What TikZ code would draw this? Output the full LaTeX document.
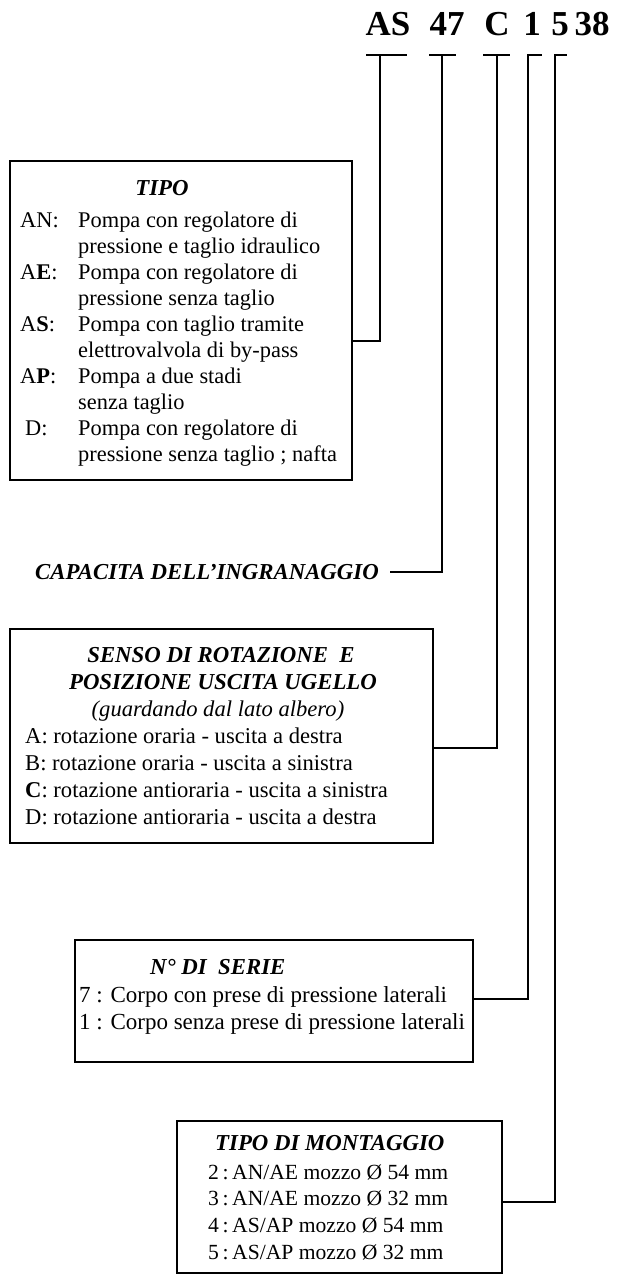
\documentclass[tikz,border=0pt]{standalone}
\usepackage{fontspec}
\setmainfont{Liberation Serif}
\begin{document}
\begin{tikzpicture}[x=1pt,y=-1pt,
  box/.style={draw, line width=2pt, inner sep=0pt, outer sep=0pt, anchor=north west},
  wire/.style={line width=1.8pt},
  bar/.style={line width=2.2pt},
  txt/.style={inner sep=0pt, anchor=base west, font=\fontsize{22.6}{27}\selectfont},
  txtT/.style={txt, font=\fontsize{22.4}{27}\selectfont},
  txtN/.style={txt, font=\fontsize{23}{27}\selectfont},
  txtM/.style={txt, font=\fontsize{21.6}{27}\selectfont},
  ttl/.style={inner sep=0pt, anchor=base, font=\fontsize{22.8}{27}\selectfont\bfseries\itshape},
  ttlw/.style={inner sep=0pt, anchor=base west, font=\fontsize{22.8}{27}\selectfont\bfseries\itshape},
  code/.style={inner sep=0pt, anchor=base, font=\fontsize{35}{40}\selectfont\bfseries}]
\useasboundingbox (0,0) rectangle (619,1275);

% ---- code at top
\node[code] (kAS) at (388,35) {AS};
\node[code] (k47) at (447,35) {47};
\node[code] (kC)  at (497,35) {C};
\node[code] (k1)  at (532,35) {1};
\node[code] (k5)  at (560,35) {5};
\node[code] (k38) at (592,35) {38};

% T bars
\coordinate (bAS1) at (366,55); \coordinate (bAS2) at (407,55); \coordinate (tAS) at (380,55);
\coordinate (b471) at (429,55); \coordinate (b472) at (456,55); \coordinate (t47) at (442,55);
\coordinate (bC1)  at (483,55); \coordinate (bC2)  at (510,55); \coordinate (tC)  at (497,55);
\coordinate (b11)  at (527,55); \coordinate (b12)  at (542,55); \coordinate (t1)  at (528,55);
\coordinate (b51)  at (554,55); \coordinate (b52)  at (567,55); \coordinate (t5)  at (555,55);
\draw[bar] (bAS1) -- (bAS2);
\draw[bar] (b471) -- (b472);
\draw[bar] (bC1) -- (bC2);
\draw[bar] (b11) -- (b12);
\draw[bar] (b51) -- (b52);

% ---- TIPO box
\node[box, minimum width=342pt, minimum height=319pt] (tipo) at (10,161) {};
\node[ttl] (tipoT) at (162,195) {TIPO};
\node[txtT] (lAN) at (20,227) {AN:};
\node[txtT] (tAN1) at (78,227) {Pompa con regolatore di};
\node[txtT] (tAN2) at (78,253) {pressione e taglio idraulico};
\node[txtT] (lAE) at (20,279) {A\textbf{E}:};
\node[txtT] (tAE1) at (78,279) {Pompa con regolatore di};
\node[txtT] (tAE2) at (78,305) {pressione senza taglio};
\node[txtT] (lAS) at (20,331) {A\textbf{S}:};
\node[txtT] (tAS1) at (78,331) {Pompa con taglio tramite};
\node[txtT] (tAS2) at (78,357) {elettrovalvola di by-pass};
\node[txtT] (lAP) at (20,383) {A\textbf{P}:};
\node[txtT] (tAP1) at (78,383) {Pompa a due stadi};
\node[txtT] (tAP2) at (78,409) {senza taglio};
\node[txtT] (lD) at (25,435) {D:};
\node[txtT] (tD1) at (78,435) {Pompa con regolatore di};
\node[txtT] (tD2) at (78,461) {pressione senza taglio ; nafta};

% ---- CAPACITA
\node[ttlw] (cap) at (35,579) {CAPACITA DELL'INGRANAGGIO};
\coordinate (capLine) at (390,572);

% ---- SENSO box
\node[box, minimum width=423pt, minimum height=214pt] (senso) at (10,629) {};
\node[ttl] (sT1) at (221,662) {SENSO DI ROTAZIONE\ \ E};
\node[ttl] (sT2) at (223,689) {POSIZIONE USCITA UGELLO};
\node[txt, anchor=base, font=\fontsize{22.6}{27}\selectfont\itshape] (sT3) at (218,716) {(guardando dal lato albero)};
\node[txt] (sA) at (25,743) {A: rotazione oraria - uscita a destra};
\node[txt] (sB) at (25,770) {B: rotazione oraria - uscita a sinistra};
\node[txt] (sC) at (25,797) {\textbf{C}: rotazione antioraria - uscita a sinistra};
\node[txt] (sD) at (25,824) {D: rotazione antioraria - uscita a destra};

% ---- SERIE box
\node[box, minimum width=398pt, minimum height=122pt] (serie) at (75,940) {};
\node[ttlw] (nT) at (150,974) {N° DI\ \ SERIE};
\node[txtN] (n7) at (79,1002) {7 : Corpo con prese di pressione laterali};
\node[txtN] (n1) at (79,1029) {1 : Corpo senza prese di pressione laterali};

% ---- MONTAGGIO box
\node[box, minimum width=325pt, minimum height=152pt] (mont) at (177,1121) {};
\node[ttlw] (mT) at (215,1150) {TIPO DI MONTAGGIO};
\node[txtM] (m2) at (208,1179) {2\thinspace:\thinspace AN/AE mozzo Ø 54 mm};
\node[txtM] (m3) at (208,1205) {3\thinspace:\thinspace AN/AE mozzo Ø 32 mm};
\node[txtM] (m4) at (208,1232) {4\thinspace:\thinspace AS/AP mozzo Ø 54 mm};
\node[txtM] (m5) at (208,1259) {5\thinspace:\thinspace AS/AP mozzo Ø 32 mm};

% ---- connectors
\draw[wire] (tAS) |- (tipo.east |- 0,341);
\draw[wire] (t47) |- (capLine);
\draw[wire] (tC) |- (senso.east |- 0,748);
\draw[wire] (t1) |- (serie.east |- 0,999);
\draw[wire] (t5) |- (mont.east |- 0,1202);
\end{tikzpicture}
\end{document}
